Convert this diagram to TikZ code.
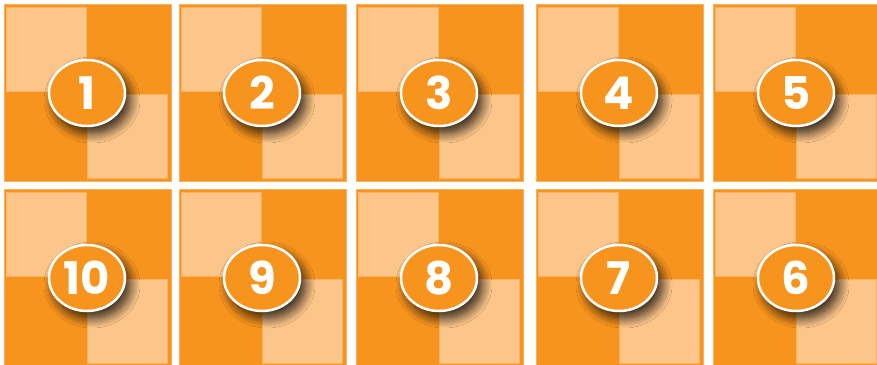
\documentclass[tikz,border=0pt]{standalone}
\usepackage{fontspec}
\setmainfont{Poppins}
\usetikzlibrary{shadows.blur,shapes.geometric}
\definecolor{darkor}{RGB}{247,148,30}
\definecolor{lightor}{RGB}{252,197,137}
\definecolor{edgeor}{RGB}{250,178,96}
\definecolor{shadowbr}{RGB}{70,35,5}
\tikzset{
  tilebg/.style={fill=darkor, draw=edgeor, line width=1pt},
  lightsq/.style={fill=lightor, draw=edgeor, line width=0.8pt},
  numoval/.style={ellipse, minimum width=76pt, minimum height=66pt, inner sep=0pt,
    fill=darkor, draw=white, line width=2.5pt, text=white,
    font=\fontsize{45}{45}\selectfont\bfseries,
    blur shadow={shadow xshift=5pt, shadow yshift=-7pt, shadow opacity=85,
      shadow blur radius=10pt, shadow blur steps=16, shadow blur extra rounding=0pt}},
}
\begin{document}
\begin{tikzpicture}[x=1pt,y=-1pt]
\useasboundingbox (0,0) rectangle (877,364);
\clip (0,0) rectangle (877,364);
\fill[white] (0,0) rectangle (877,364);
\foreach \tx [count=\i] in {4,179,356,536,713}{
  \foreach \ty/\row in {4/1,189/2}{
    \pgfmathtruncatemacro{\num}{\row==1 ? \i : 11-\i}
    \draw[tilebg] (\tx,\ty) rectangle ++(167,177);
    \draw[lightsq] (\tx+2,\ty+3) rectangle (\tx+82,\ty+87);
    \draw[lightsq] (\tx+83,\ty+90) rectangle (\tx+163,\ty+174);
    \node[numoval] (n\num) at (\tx+83,\ty+89) {\num};
  }
}
\end{tikzpicture}
\end{document}
